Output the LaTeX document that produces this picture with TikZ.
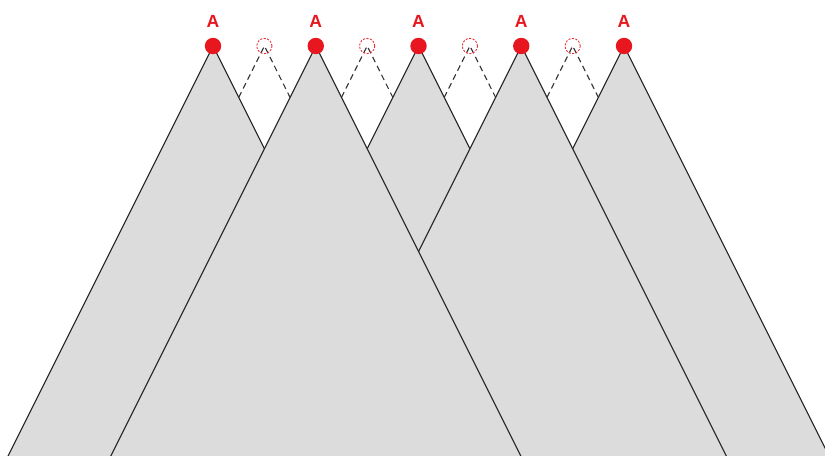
\documentclass[tikz,border=0pt]{standalone}
\usepackage{fontspec}
\setsansfont{Liberation Sans}
\usetikzlibrary{calc}
\definecolor{tri}{HTML}{DCDCDC}
\definecolor{redA}{HTML}{E8161E}
\begin{document}
\begin{tikzpicture}[x=0.03cm,y=-0.03cm,
  triangle/.style={fill=tri,draw=black!85,line width=0.95pt,line join=miter},
  dot/.style={circle,fill=redA,inner sep=0pt,minimum size=14},
  ghost/.style={circle,draw=redA!90,dash pattern=on 1.8pt off 1.2pt,line width=0.75pt,inner sep=0pt,minimum size=13},
  ghostline/.style={draw=black!80,line width=0.95pt,dash pattern=on 5pt off 3.5pt},
  lbl/.style={text=redA,font=\sffamily\bfseries\fontsize{15}{15}\selectfont,inner sep=0pt}]
\useasboundingbox (0,0) rectangle (825,455);
\clip (0,0) rectangle (825,455);
% apex coordinates
\foreach \i/\x in {1/213,2/315.75,3/418.5,4/521.25,5/624}{
  \coordinate (p\i) at (\x,46);
  \coordinate (l\i) at (\x-215,476);
  \coordinate (r\i) at (\x+215,476);
}
\foreach \i/\x in {1/264.375,2/367.125,3/469.875,4/572.625}{
  \coordinate (q\i) at (\x,46);
  \coordinate (ql\i) at (\x-25.69,97.4);
  \coordinate (qr\i) at (\x+25.69,97.4);
}
% triangles, back to front
\foreach \i in {5,3,1,4,2}{
  \draw[triangle] (l\i) -- (p\i) -- (r\i) -- cycle;
}
% dashed virtual edges
\foreach \i in {1,2,3,4}{
  \draw[ghostline] (ql\i) -- (q\i) -- (qr\i);
}
% dots and labels
\foreach \i in {1,...,5}{
  \node[dot] (d\i) at (p\i) {};
  \node[lbl] (a\i) at ($(p\i)+(0,-24.5)$) {A};
}
\foreach \i in {1,...,4}{
  \node[ghost] (v\i) at (q\i) {};
}
\end{tikzpicture}
\end{document}
